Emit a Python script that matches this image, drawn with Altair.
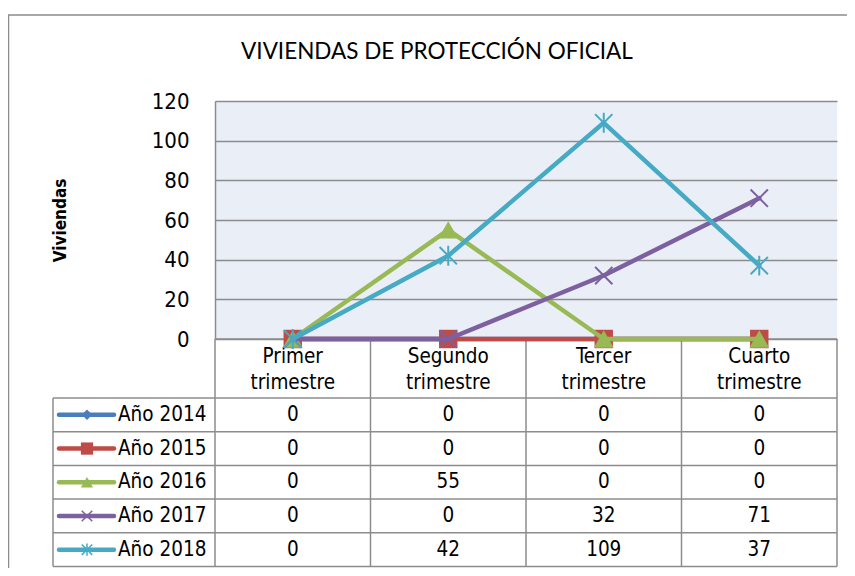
import altair as alt
import pandas as pd

# ---------------- data ----------------
quarters = ["Primer trimestre", "Segundo trimestre", "Tercer trimestre", "Cuarto trimestre"]
series_names = ["Año 2014", "Año 2015", "Año 2016", "Año 2017", "Año 2018"]
v2014 = [0, 0, 0, 0]
v2015 = [0, 0, 0, 0]
v2016 = [0, 55, 0, 0]
v2017 = [0, 0, 32, 71]
v2018 = [0, 42, 109, 37]
series_values = [v2014, v2015, v2016, v2017, v2018]
colors = ["#4A7EBB", "#BE4B48", "#98B954", "#7D60A0", "#46AAC5"]
y_ticks = [0, 20, 40, 60, 80, 100, 120]
title_text = "VIVIENDAS DE PROTECCIÓN OFICIAL"
y_title = "Viviendas"

# marker styles (shape, filled, size on chart, size in table legend)
X_PATH = "M-1,-1L1,1M-1,1L1,-1"
AST_PATH = "M-1,-1L1,1M-1,1L1,-1M0,-1.15L0,1.15"
markers = [
    ("diamond", True, 200, 110),
    ("square", True, 340, 150),
    ("triangle-up", True, 400, 150),
    (X_PATH, False, 300, 110),
    (AST_PATH, False, 300, 110),
]

rows = []
for si, s in enumerate(series_names):
    for qi, q in enumerate(quarters):
        rows.append({"serie": s, "row": si + 0.5, "trimestre": q,
                     "xc": qi + 0.5, "valor": series_values[si][qi]})
df = pd.DataFrame(rows)
df_q = pd.DataFrame({"label": [q.replace(" ", "\n") for q in quarters],
                     "xc": [i + 0.5 for i in range(len(quarters))]})
df_s = pd.DataFrame({"serie": series_names,
                     "row": [i + 0.5 for i in range(len(series_names))]})

# ---------------- layout ----------------
W, H = 622, 238
FONT = "DejaVu Sans Condensed"
GRID = "#8C8C8C"
TABLE_TOP, TABLE_BOTTOM = 297, 465.5
LEG_LEFT = -162

x_scale = alt.Scale(domain=[0, 4], nice=False, zero=False)
y_scale = alt.Scale(domain=[0, 120], nice=False)
row_scale = alt.Scale(domain=[0, 5], range=[TABLE_TOP, TABLE_BOTTOM], nice=False, zero=False)
color_scale = alt.Scale(domain=series_names, range=colors)

one = pd.DataFrame({"k": [0]})
layers = []

# outer chart frame
layers.append(alt.Chart(one).mark_rect(filled=False, stroke=GRID, strokeWidth=1.5).encode(
    x=alt.value(-206.5), x2=alt.value(700), y=alt.value(-86), y2=alt.value(700)))

# title
layers.append(alt.Chart(pd.DataFrame({"t": [title_text]})).mark_text(
    font="Lato", fontSize=22.5, align="center", baseline="middle", color="black").encode(
    x=alt.value(222), y=alt.value(-49), text="t:N"))

# y axis (held by the first data layer)
axis_y = alt.Axis(values=y_ticks, title=y_title, grid=True, gridColor=GRID, gridWidth=1.5,
                  domain=True, domainColor=GRID, domainWidth=1.5, ticks=False, tickSize=0,
                  labelFont=FONT, labelFontSize=22, labelColor="black", labelPadding=26,
                  titleFont=FONT, titleFontSize=17, titleFontWeight="bold", titleColor="black",
                  titleX=-155, titleY=119, titleAngle=270, titleAlign="center",
                  titleBaseline="middle")

# table lines
layers.append(alt.Chart(pd.DataFrame({"r": list(range(6))})).mark_rule(
    color=GRID, strokeWidth=1.5).encode(
    y=alt.Y("r:Q", scale=row_scale, axis=None), x=alt.value(LEG_LEFT), x2=alt.value(W)))
layers.append(alt.Chart(pd.DataFrame({"c": list(range(5))})).mark_rule(
    color=GRID, strokeWidth=1.5).encode(
    x=alt.X("c:Q", scale=x_scale, axis=None), y=alt.value(H), y2=alt.value(TABLE_BOTTOM)))
layers.append(alt.Chart(one).mark_rule(color=GRID, strokeWidth=1.5).encode(
    x=alt.value(LEG_LEFT), y=alt.value(TABLE_TOP), y2=alt.value(TABLE_BOTTOM)))
layers.append(alt.Chart(one).mark_rule(color=GRID, strokeWidth=1.5).encode(
    x=alt.value(0), x2=alt.value(W), y=alt.value(H)))

# header labels (two lines, first line centred at y)
layers.append(alt.Chart(df_q).mark_text(
    font=FONT, fontSize=20.5, lineBreak="\n", lineHeight=26, align="center",
    baseline="middle", color="black").encode(
    x=alt.X("xc:Q", scale=x_scale, axis=None), y=alt.value(256), text="label:N"))

# values in table
layers.append(alt.Chart(df).mark_text(
    font=FONT, fontSize=20.5, align="center", baseline="middle", color="black").encode(
    x=alt.X("xc:Q", scale=x_scale, axis=None),
    y=alt.Y("row:Q", scale=row_scale, axis=None), text="valor:Q"))

# legend labels in table
layers.append(alt.Chart(df_s).mark_text(
    font=FONT, fontSize=20.5, align="left", baseline="middle", color="black").encode(
    x=alt.value(-97), y=alt.Y("row:Q", scale=row_scale, axis=None), text="serie:N"))

# legend line samples
layers.append(alt.Chart(df_s).mark_rule(strokeWidth=4.5, strokeCap="round").encode(
    x=alt.value(-156), x2=alt.value(-101),
    y=alt.Y("row:Q", scale=row_scale, axis=None),
    color=alt.Color("serie:N", scale=color_scale, legend=None)))

# legend markers
for si, s in enumerate(series_names):
    shape, filled, _, lsize = markers[si]
    layers.append(alt.Chart(df_s[df_s.serie == s]).mark_point(
        shape=shape, filled=filled, color=colors[si], size=lsize,
        strokeWidth=1.5, opacity=1).encode(
        x=alt.value(-128), y=alt.Y("row:Q", scale=row_scale, axis=None)))

# data series (line then markers, series by series)
for si, s in enumerate(series_names):
    shape, filled, size, _ = markers[si]
    d = df[df.serie == s]
    layers.append(alt.Chart(d).mark_line(
        color=colors[si], strokeWidth=4.5, strokeJoin="round", strokeCap="round").encode(
        x=alt.X("xc:Q", scale=x_scale, axis=None),
        y=alt.Y("valor:Q", scale=y_scale, axis=axis_y if si == 0 else None)))
    layers.append(alt.Chart(d).mark_point(
        shape=shape, filled=filled, color=colors[si], size=size,
        strokeWidth=2, opacity=1).encode(
        x=alt.X("xc:Q", scale=x_scale, axis=None),
        y=alt.Y("valor:Q", scale=y_scale, axis=None)))

chart = alt.layer(*layers).resolve_scale(y="independent").properties(
    width=W, height=H,
    autosize=alt.AutoSizeParams(type="none"),
    padding={"left": 207, "top": 93, "right": 10, "bottom": 229},
).configure_view(fill="#EAEFF7", stroke=None)

chart.save("out.html", embed_options={"renderer": "svg", "actions": False})
